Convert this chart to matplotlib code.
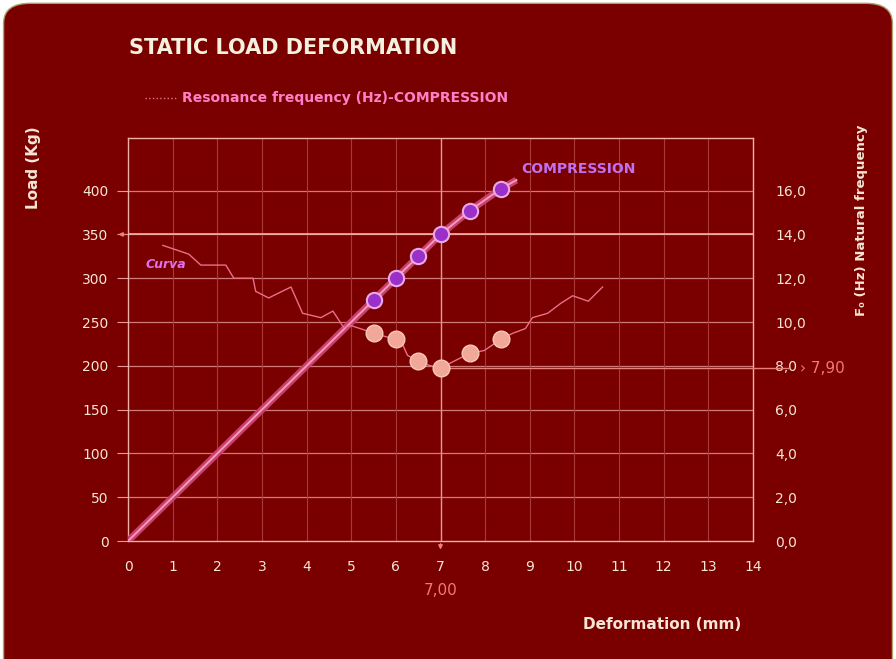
import matplotlib
matplotlib.use("Agg")
import matplotlib.pyplot as plt
from matplotlib.patches import FancyBboxPatch
from matplotlib.ticker import FuncFormatter

# load curve (left axis, Kg)
def_load = [0, 5.5, 6.0, 6.5, 7.0, 7.65, 8.35, 8.7]
load = [0, 275, 300, 325, 350, 377, 402, 412]
mark_def = [5.5, 6.0, 6.5, 7.0, 7.65, 8.35]
mark_load = [275, 300, 325, 350, 377, 402]

# resonance frequency (right axis, Hz)
mark_freq = [9.48, 9.21, 8.2, 7.9, 8.57, 9.21]
curva_def = [0.78, 1.36, 1.63, 2.19, 2.37, 2.80, 2.86, 3.15, 3.65, 3.91, 4.32, 4.59,
             4.83, 4.99, 5.32, 5.5, 6.0, 6.14, 6.26, 6.5, 6.75, 7.0, 7.65, 7.98,
             8.35, 8.61, 8.9, 9.06, 9.40, 9.69, 9.96, 10.31, 10.63]
curva_freq = [13.5, 13.1, 12.6, 12.6, 12.0, 12.0, 11.4, 11.1, 11.6, 10.4, 10.2, 10.5,
              9.75, 9.84, 9.62, 9.48, 9.21, 9.02, 8.48, 8.2, 8.02, 7.9, 8.57, 8.7,
              9.21, 9.48, 9.7, 10.2, 10.4, 10.85, 11.2, 10.95, 11.6]

x_ticks = list(range(0, 15))
load_ticks = list(range(0, 401, 50))
freq_ticks = [0, 2, 4, 6, 8, 10, 12, 14, 16]

bg = "#7a0000"
txt = "#f5e6d6"
grid_h = "#e89a9a"
grid_v = "#a83a3a"

fig = plt.figure(figsize=(8.96, 6.59), dpi=100, facecolor="white")
fig.patches.append(FancyBboxPatch((0.004, -0.5), 0.992, 1.495,
                                  boxstyle="round,pad=0,rounding_size=0.03",
                                  transform=fig.transFigure, facecolor=bg,
                                  edgecolor="#b0a070", linewidth=1, zorder=-10))

ax = fig.add_axes([0.1429, 0.179, 0.6975, 0.6115])
ax.set_facecolor(bg)
ax.set_xlim(0, 14)
ax.set_ylim(0, 460)
ax2 = ax.twinx()
ax2.set_ylim(0, 460 / 25)

for s in ax.spines.values():
    s.set_color("#f0b0a8")
    s.set_linewidth(1)
for s in ax2.spines.values():
    s.set_visible(False)

# grid
for yv in load_ticks[1:]:
    ax.axhline(yv, color=grid_h, lw=0.9, alpha=0.8, zorder=1)
for xv in x_ticks[1:]:
    ax.axvline(xv, color=grid_v, lw=0.8, zorder=1)

# reference lines at the 7 mm point
ax.axhline(350, color="#f4b0a8", lw=1.2, zorder=2)
ax.axvline(7, color="#e49a94", lw=1.0, zorder=2)
ax2.plot([7, 14.8], [7.9, 7.9], color="#e8807a", lw=1.0, clip_on=False, zorder=2)

ax.set_xticks(x_ticks)
ax.set_yticks(load_ticks)
ax2.set_yticks(freq_ticks)
ax2.yaxis.set_major_formatter(FuncFormatter(lambda v, p: ("%.1f" % v).replace(".", ",")))
ax.tick_params(axis="x", length=0, pad=14, colors=txt, labelsize=10)
ax.tick_params(axis="y", length=8, pad=6, colors=txt, labelsize=10, color="#e89a9a")
ax2.tick_params(axis="y", length=0, pad=16, colors=txt, labelsize=10)

# load line
ax.plot(def_load, load, color="#c8406e", lw=5, solid_capstyle="butt", zorder=4)
ax.plot(def_load, load, color="#f59ab8", lw=1.4, zorder=5)
ax.plot(mark_def, mark_load, ls="none", marker="o", ms=11, mfc="#9a30c8",
        mec="#eaa8e8", mew=1.5, zorder=6)

# frequency curve
ax2.plot(curva_def, curva_freq, color="#e8708a", lw=1.0, zorder=4)
ax2.plot(mark_def, mark_freq, ls="none", marker="o", ms=12, mfc="#f2a898",
         mec="#f8c8b8", mew=1, zorder=6)

# small arrows
ax.annotate("", xy=(-0.28, 350), xytext=(0, 350),
            arrowprops=dict(arrowstyle="-|>", color="#f08080", lw=1, mutation_scale=6),
            annotation_clip=False)
ax.annotate("", xy=(7, -13), xytext=(7, 0),
            arrowprops=dict(arrowstyle="-|>", color="#f08080", lw=1, mutation_scale=6),
            annotation_clip=False)
ax.text(7, -56, "7,00", color="#f07878", fontsize=11, ha="center", va="center")
ax2.text(15.05, 7.9, "› 7,90", color="#f07878", fontsize=11, ha="left", va="center")

ax.text(0.4, 316, "Curva", color="#e070f0", fontsize=9, fontweight="bold",
        style="italic", ha="left", va="center")
ax.text(8.8, 425, "COMPRESSION", color="#c070f0", fontsize=10, fontweight="bold",
        ha="left", va="center")

# titles and labels
fig.text(0.327, 0.927, "STATIC LOAD DEFORMATION", color="#f5f0e0", fontsize=15,
         fontweight="bold", ha="center", va="center")
fig.lines.append(plt.Line2D([0.162, 0.196], [0.851, 0.851], transform=fig.transFigure,
                            color="#e87090", lw=1, ls=":"))
fig.text(0.203, 0.851, "Resonance frequency (Hz)-COMPRESSION", color="#ff7fc8",
         fontsize=10, fontweight="bold", ha="left", va="center")
fig.text(0.037, 0.745, "Load (Kg)", color=txt, fontsize=11, fontweight="bold",
         rotation=90, ha="center", va="center")
fig.text(0.962, 0.665, "F₀ (Hz) Natural frequency", color=txt, fontsize=9.5,
         fontweight="bold", rotation=90, ha="center", va="center")
fig.text(0.739, 0.052, "Deformation (mm)", color=txt, fontsize=11, fontweight="bold",
         ha="center", va="center")

fig.savefig("out.png", dpi=100, facecolor="white")
